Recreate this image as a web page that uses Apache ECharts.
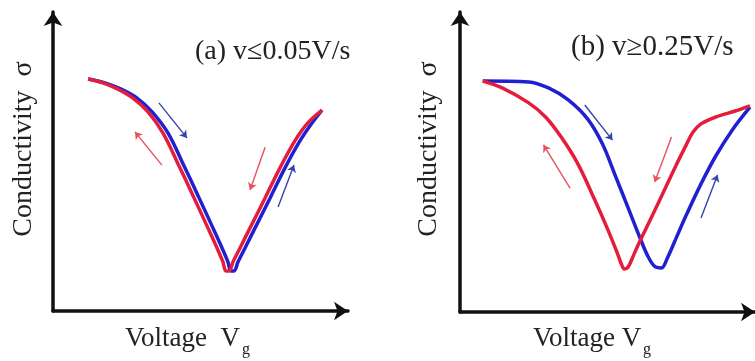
<!DOCTYPE html>
<html><head><meta charset="utf-8">
<script src="https://cdn.jsdelivr.net/npm/echarts@6/dist/echarts.min.js"></script>
<style>html,body{margin:0;padding:0;background:#fff}#c{width:755px;height:361px}</style>
</head><body><div id="c"></div>
<script>
// Panel titles and axis names
const panelTitles = ['(a) v≤0.05V/s', '(b) v≥0.25V/s'];
const yAxisName = 'Conductivity  σ';
const xAxisNames = ['Voltage  V', 'Voltage V'];
const xAxisSub = 'g';

// Panel (a): slow sweep (arbitrary units, 0-100)
const aForward = [[11.9,77.6],[17.6,76.3],[23.1,74.2],[28.5,71.2],[33.6,66.6],[39.0,59.5],[44.1,49.2],[49.2,38.5],[54.2,27.8],[57.6,20.4],[59.3,16.4],[60.3,13.4],[61.4,13.4],[62.7,16.4],[65.1,21.1],[68.5,27.8],[73.6,37.8],[78.6,47.8],[83.7,56.9],[87.8,62.9],[91.2,67.2]];
const aBackward = [[11.9,77.6],[16.9,76.3],[22.0,74.2],[27.1,71.2],[32.2,66.6],[37.3,59.5],[42.4,49.2],[47.5,38.5],[52.5,27.8],[55.9,20.4],[57.6,16.4],[58.6,13.4],[59.7,13.4],[61.0,16.4],[63.4,21.1],[66.8,27.8],[71.9,37.8],[76.9,47.8],[82.0,56.9],[86.4,62.9],[91.2,67.2]];
const aArrowsBlue = [[[35.9,69.6],[45.4,57.9]], [[76.3,34.8],[81.7,48.8]]];
const aArrowsRed = [[[36.9,48.8],[27.8,59.9]], [[71.9,54.8],[66.8,40.5]]];

// Panel (b): fast sweep
const bForward = [[7.7,77.0],[23.3,76.7],[30.0,74.7],[36.7,70.7],[43.3,64.3],[48.3,56.0],[52.7,45.3],[57.0,34.7],[61.3,24.0],[64.0,18.0],[66.3,15.0],[68.3,14.7],[70.3,18.0],[73.3,24.7],[76.7,32.3],[81.7,42.7],[86.7,52.0],[92.3,60.7],[98.3,68.3]];
const bBackward = [[7.7,77.0],[14.3,74.7],[23.3,69.7],[29.0,65.0],[34.3,58.3],[40.0,49.3],[45.7,37.3],[50.0,27.7],[53.3,19.7],[54.7,16.0],[55.7,14.3],[57.0,15.0],[59.0,19.3],[61.0,23.7],[64.3,30.3],[67.7,37.3],[73.3,49.0],[76.7,55.7],[79.0,60.0],[81.7,62.7],[86.7,65.0],[93.3,67.0],[98.3,68.7]];
const bArrowsBlue = [[[42.3,69.0],[51.7,57.3]], [[81.7,31.3],[87.3,45.7]]];
const bArrowsRed = [[[37.3,41.3],[28.3,55.7]], [[71.7,58.3],[66.0,43.3]]];

const RED = '#e41e3a', BLUE = '#2020d0';
const FONT = '"Liberation Serif", "DejaVu Serif", serif';

function axis(idx) {
  return {
    type: 'value', gridIndex: idx, min: 0, max: 100,
    axisLine: { show: true, onZero: false, symbol: ['none', 'arrow'], symbolSize: [14, 14],
      lineStyle: { color: '#111', width: 3.5 } },
    axisTick: { show: false }, axisLabel: { show: false }, splitLine: { show: false }
  };
}
function curve(idx, data, color, z) {
  return { type: 'line', xAxisIndex: idx, yAxisIndex: idx, data: data, smooth: 0.35,
    showSymbol: false, symbol: 'none', z: z, lineStyle: { color: color, width: 3.5 } };
}
function arrows(idx, list, color) {
  return { type: 'lines', coordinateSystem: 'cartesian2d', xAxisIndex: idx, yAxisIndex: idx,
    symbol: ['none', 'arrow'], symbolSize: 7, z: 5,
    lineStyle: { color: color, width: 1.4, opacity: 1 },
    data: list.map(c => ({ coords: c })) };
}
function txt(x, y, text, size, opts) {
  return Object.assign({ type: 'text', x: x, y: y,
    style: Object.assign({ text: text, fill: '#222', font: size + 'px ' + FONT,
      textAlign: 'left', textVerticalAlign: 'middle', verticalAlign: 'middle' }, opts && opts.style || {}) },
    opts && opts.el || {});
}

const chart = echarts.init(document.getElementById('c'), null, { renderer: 'canvas' });
chart.setOption({
  animation: false,
  backgroundColor: '#fff',
  grid: [
    { left: 53, top: 12, width: 295, height: 299 },
    { left: 460, top: 12, width: 300, height: 300 }
  ],
  xAxis: [axis(0), axis(1)],
  yAxis: [axis(0), axis(1)],
  series: [
    curve(0, aForward, BLUE, 2), curve(0, aBackward, RED, 3),
    arrows(0, aArrowsBlue, '#3344aa'), arrows(0, aArrowsRed, '#e8505e'),
    curve(1, bForward, BLUE, 2), curve(1, bBackward, RED, 3),
    arrows(1, bArrowsBlue, '#3344aa'), arrows(1, bArrowsRed, '#e8505e')
  ],
  graphic: [
    txt(195, 52, panelTitles[0], 28),
    txt(571, 47, panelTitles[1], 29),
    txt(24, 149, yAxisName, 28, { el: { rotation: Math.PI / 2 }, style: { textAlign: 'center' } }),
    txt(429, 149, yAxisName, 28, { el: { rotation: Math.PI / 2 }, style: { textAlign: 'center' } }),
    txt(125, 339, xAxisNames[0], 27),
    txt(242, 350, xAxisSub, 16),
    txt(533, 339, xAxisNames[1], 27),
    txt(643, 350, xAxisSub, 16)
  ]
});
</script></body></html>
